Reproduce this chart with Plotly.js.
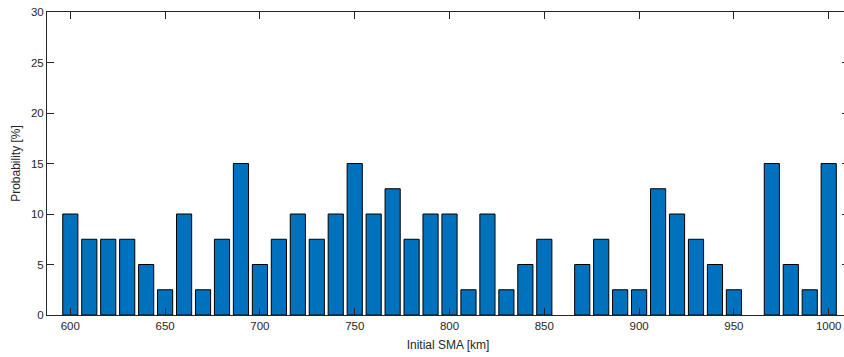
<!DOCTYPE html>
<html>
<head>
<meta charset="utf-8">
<script src="https://cdn.plot.ly/plotly-3.0.1.min.js"></script>
<style>
html,body{margin:0;padding:0;overflow:hidden;background:#fff;}
#chart{width:860px;height:357px;}
</style>
</head>
<body>
<div id="chart"></div>
<script>
const sma = [600,610,620,630,640,650,660,670,680,690,700,710,720,730,740,750,760,770,780,790,800,810,820,830,840,850,860,870,880,890,900,910,920,930,940,950,960,970,980,990,1000];
const probability = [10,7.5,7.5,7.5,5,2.5,10,2.5,7.5,15,5,7.5,10,7.5,10,15,10,12.5,7.5,10,10,2.5,10,2.5,5,7.5,0,5,7.5,2.5,2.5,12.5,10,7.5,5,2.5,0,15,5,2.5,15];
const xTicks = [600,650,700,750,800,850,900,950,1000];
const yTicks = [0,5,10,15,20,25,30];

const axisColor = '#262626';
const fontFam = 'Liberation Sans, Arial, Helvetica, sans-serif';

Plotly.newPlot('chart', [{
  type: 'bar',
  x: sma,
  y: probability,
  marker: {color: '#0072BD', line: {color: '#000000', width: probability.map(v => v > 0 ? 1 : 0)}},
  hoverinfo: 'skip'
}], {
  width: 860, height: 357,
  margin: {l: 47, r: 11, t: 12, b: 42},
  bargap: 0.2,
  paper_bgcolor: '#ffffff',
  plot_bgcolor: '#ffffff',
  showlegend: false,
  font: {family: fontFam, size: 11, color: axisColor},
  xaxis: {
    range: [587.7, 1010.7],
    tickvals: xTicks,
    ticks: 'inside', ticklen: 7, tickwidth: 1, tickcolor: axisColor,
    showline: true, linecolor: axisColor, linewidth: 1, mirror: 'ticks',
    showgrid: false, zeroline: false, layer: 'above traces',
    tickfont: {size: 11.5, color: axisColor},
    title: {text: 'Initial SMA [km]', font: {size: 12, color: axisColor}, standoff: 9}
  },
  yaxis: {
    range: [0, 30],
    tickvals: yTicks,
    ticks: 'inside', ticklen: 7, tickwidth: 1, tickcolor: axisColor,
    showline: true, linecolor: axisColor, linewidth: 1, mirror: 'ticks',
    showgrid: false, zeroline: false, layer: 'above traces',
    tickfont: {size: 11.5, color: axisColor},
    title: {text: 'Probability [%]', font: {size: 12, color: axisColor}, standoff: 7}
  }
}, {displayModeBar: false, staticPlot: true});
</script>
</body>
</html>
